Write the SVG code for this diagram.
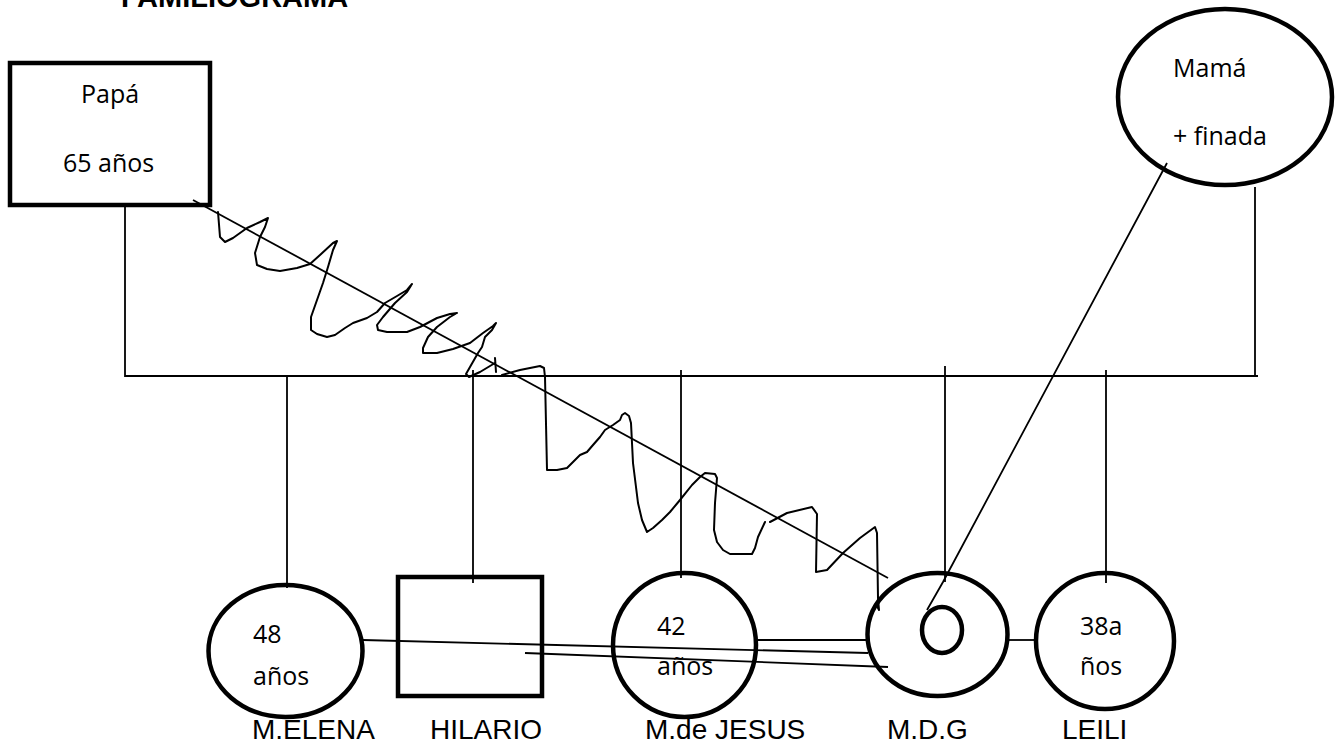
<svg xmlns="http://www.w3.org/2000/svg" width="1336" height="745" viewBox="0 0 1336 745">
<style>
.node{fill:none;stroke:#000;stroke-width:4.5}
.in{font-family:"Open Sans","Noto Sans",sans-serif;font-size:25px;fill:#000}
.lbl{font-family:"Liberation Sans",Arial,sans-serif;font-size:28px;fill:#000}
.ttl{font-family:"Liberation Sans",Arial,sans-serif;font-size:29px;font-weight:bold;fill:#000}
.ln{fill:none;stroke:#000;stroke-width:1.8}
.scr{fill:none;stroke:#000;stroke-width:2;stroke-linejoin:round;stroke-linecap:round}
</style>
<rect width="1336" height="745" fill="#fff"/>
<text class="ttl" x="121" y="7">FAMILIOGRAMA</text>
<g id="connectors">
<polyline class="ln" points="125,207 125,376 127,376 1258,376"/>
<line class="ln" x1="1255" y1="187" x2="1255" y2="376"/>
<line class="ln" x1="287" y1="376" x2="287" y2="588"/>
<line class="ln" x1="473" y1="370" x2="473" y2="583"/>
<line class="ln" x1="681" y1="370" x2="681" y2="578"/>
<line class="ln" x1="945" y1="366" x2="945" y2="582"/>
<line class="ln" x1="1106" y1="370" x2="1106" y2="583"/>
<line class="ln" x1="193" y1="200" x2="888" y2="578"/>
<polyline class="ln" points="1167,163 943,582 927,610"/>
<line class="ln" x1="363" y1="640" x2="868" y2="653"/>
<line class="ln" x1="525" y1="653" x2="888" y2="667"/>
<line class="ln" x1="756" y1="640" x2="868" y2="640"/>
<line class="ln" x1="1008" y1="640" x2="1036" y2="640"/>
</g>
<g id="scribble">
<polyline class="scr" points="218,212 220,237 225,242 233,238 247,228 260,222 268,218 265,227 260,237 255,253 257,265 267,269 280,271 297,268 310,264 320,255 333,243 337,241 333,250 328,267 323,283 317,300 311,317 311,330 317,334 327,337 335,335 345,328 353,323 367,318 377,312 385,303 397,296 407,290 412,284 407,292 395,303 383,317 377,325 378,330 387,332 407,332 420,327 437,318 450,314 457,313 450,317 437,327 428,337 423,348 423,353 437,353 453,349 470,343 483,333 493,326 496,323 492,330 485,337 482,347 478,353 470,367 466,374 469,377 480,372 495,363"/>
<line class="scr" x1="495" y1="358" x2="496" y2="372"/>
<polyline class="scr" points="502,375 520,370 540,366 544,368 545,377 547,470 557,470 567,468 573,462 580,455 587,452 593,445 600,437 605,430 613,425 620,420 622,415 625,413 629,416 631,423 633,463 638,503 642,520 647,532 653,528 662,520 670,512 680,500 692,485 700,477 705,473 715,474 717,478 715,503 714,530 717,542 723,550 730,554 752,554 755,548 758,537 765,522"/>
<polyline class="scr" points="770,522 787,513 812,507 817,514 816,572 827,570 843,553 860,538 875,527 877,533 878,598 879,610 877,606"/>
</g>
<g id="papa">
<rect class="node" x="10" y="63" width="200" height="142"/>
<text class="in" x="81" y="103">Papá</text>
<text class="in" x="63" y="172">65 años</text>
</g>
<g id="mama">
<ellipse class="node" cx="1225" cy="97" rx="107" ry="88"/>
<text class="in" x="1173" y="77">Mamá</text>
<text class="in" x="1173" y="145">+ finada</text>
</g>
<g id="melena">
<ellipse class="node" cx="285.5" cy="651" rx="77" ry="66"/>
<text class="in" x="253" y="643">48</text>
<text class="in" x="253" y="685">años</text>
<text class="lbl" x="252" y="739">M.ELENA</text>
</g>
<g id="hilario">
<rect class="node" x="398" y="577" width="144" height="119"/>
<text class="lbl" x="430" y="739">HILARIO</text>
</g>
<g id="mdejesus">
<ellipse class="node" cx="684.5" cy="645" rx="71.5" ry="72"/>
<text class="in" x="657" y="635">42</text>
<text class="in" x="657" y="675">años</text>
<text class="lbl" x="645" y="739">M.de JESUS</text>
</g>
<g id="mdg">
<ellipse class="node" cx="937.5" cy="634.5" rx="70" ry="61.5"/>
<ellipse class="node" cx="942" cy="630" rx="20" ry="23"/>
<text class="lbl" x="887" y="739">M.D.G</text>
</g>
<g id="leili">
<ellipse class="node" cx="1105" cy="641" rx="69" ry="68"/>
<text class="in" x="1080" y="635">38a</text>
<text class="in" x="1080" y="675">ños</text>
<text class="lbl" x="1062" y="739">LEILI</text>
</g>
</svg>
